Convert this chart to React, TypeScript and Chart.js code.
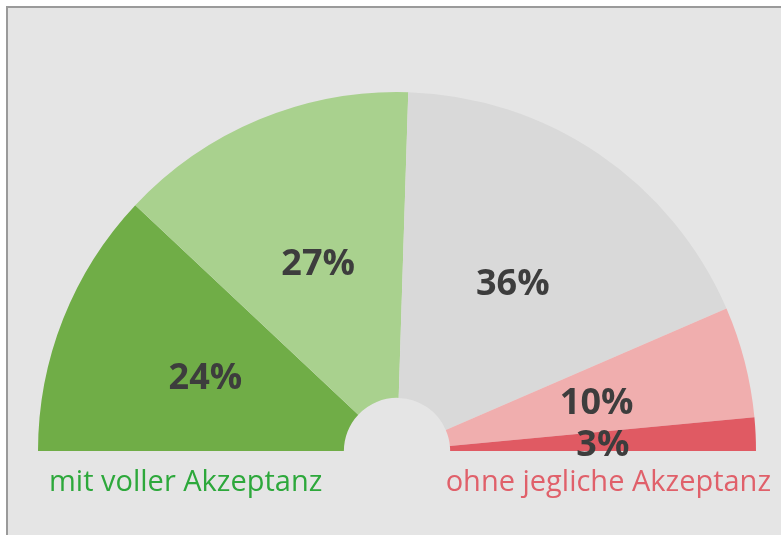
import React, { useEffect, useRef } from "react";
import { Chart, registerables } from "chart.js";

Chart.register(...registerables);

const categories = ["sehr hoch", "hoch", "mittel", "gering", "keine"];
const values = [24, 27, 36, 10, 3];
const valueLabels = ["24%", "27%", "36%", "10%", "3%"];
const colors = ["#70ad47", "#a9d18e", "#d9d9d9", "#f0aeae", "#e05a63"];
const leftCaption = "mit voller Akzeptanz";
const rightCaption = "ohne jegliche Akzeptanz";

const labelPlugin = {
  id: "sliceLabels",
  afterDatasetsDraw(chart: any) {
    const ctx = chart.ctx;
    const meta = chart.getDatasetMeta(0);
    ctx.save();
    ctx.font = "bold 36px 'Open Sans', sans-serif";
    ctx.fillStyle = "#3d3d3d";
    ctx.textAlign = "center";
    ctx.textBaseline = "middle";
    meta.data.forEach((arc: any, i: number) => {
      const p = arc.tooltipPosition();
      ctx.fillText(valueLabels[i], p.x, p.y + 4);
    });
    // captions below the half ring
    const area = chart.chartArea;
    ctx.font = "29px 'Open Sans', sans-serif";
    ctx.textBaseline = "alphabetic";
    ctx.textAlign = "left";
    ctx.fillStyle = "#2da83b";
    ctx.fillText(leftCaption, area.left + 11, area.bottom + 40);
    ctx.textAlign = "right";
    ctx.fillStyle = "#e0606a";
    ctx.fillText(rightCaption, area.right + 15, area.bottom + 40);
    ctx.restore();
  },
};

export default function App() {
  const ref = useRef<HTMLCanvasElement>(null);
  useEffect(() => {
    if (!ref.current) return;
    const chart = new Chart(ref.current, {
      type: "doughnut",
      data: {
        labels: categories,
        datasets: [
          {
            data: values,
            backgroundColor: colors,
            borderWidth: 0,
          },
        ],
      },
      options: {
        responsive: false,
        animation: false,
        rotation: -90,
        circumference: 180,
        cutout: "14.8%",
        layout: { padding: { left: 38, right: 25, top: 92, bottom: 84 } },
        plugins: {
          legend: { display: false },
          tooltip: { enabled: false },
        },
      },
      plugins: [labelPlugin],
    });
    return () => chart.destroy();
  }, []);
  return (
    <div
      style={{
        position: "fixed",
        left: 0,
        top: 0,
        width: 781,
        height: 535,
        background: "#ffffff",
        overflow: "hidden",
      }}
    >
      <div
        style={{
          position: "absolute",
          left: 6,
          top: 6,
          width: 800,
          height: 600,
          background: "#e5e5e5",
          borderTop: "2px solid #9a9a9a",
          borderLeft: "2px solid #9a9a9a",
        }}
      />
      <canvas
        ref={ref}
        width={781}
        height={535}
        style={{ position: "absolute", left: 0, top: 0, width: 781, height: 535 }}
      />
    </div>
  );
}
